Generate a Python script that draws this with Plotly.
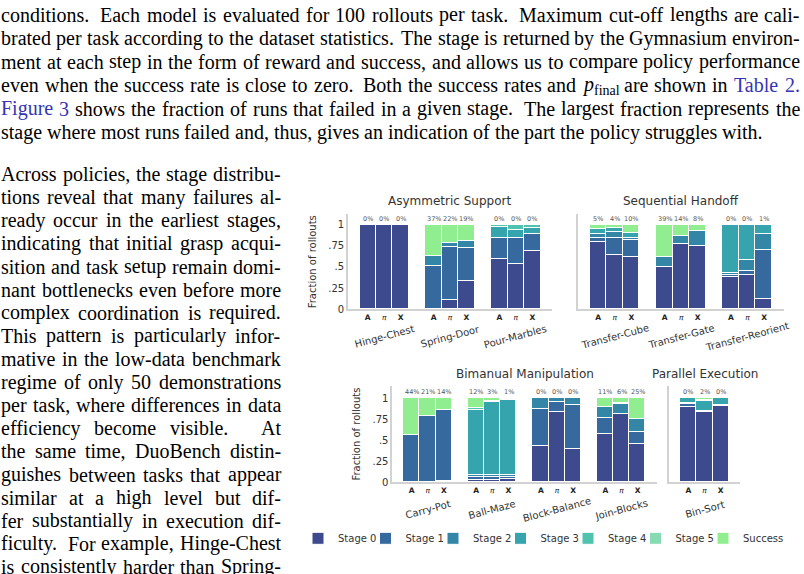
import plotly.graph_objects as go

# ---------------------------------------------------------------- data
panel_titles = ["Asymmetric Support", "Sequential Handoff", "Bimanual Manipulation", "Parallel Execution"]
panel_tasks = [
    ["Hinge-Chest", "Spring-Door", "Pour-Marbles"],
    ["Transfer-Cube", "Transfer-Gate", "Transfer-Reorient"],
    ["Carry-Pot", "Ball-Maze", "Block-Balance", "Join-Blocks"],
    ["Bin-Sort"],
]
policy_ticks = ["<b>A</b>", "<i>π</i>", "<b>X</b>"]
stage_names = ["Stage 0", "Stage 1", "Stage 2", "Stage 3", "Stage 4", "Stage 5", "Success"]
stage_colors = ["#3e4a8e", "#366a9e", "#3386a5", "#36a4ad", "#4fc3ad", "#86dbb2", "#90ee90"]

# fractions per bar: tasks in order above, policies A, pi, X within each task
stage0 = [1, 1, 1, 0, .10, .33, .59, .53, .68,
          .79, .64, .61, .49, .77, .74, .38, .40, .11,
          0, 0, .01, .03, .03, .04, .43, .84, .40, .58, .81, .46,
          .90, .84, .91]
stage1 = [0, 0, 0, .51, .63, .39, .25, .31, .21,
          .05, .20, .21, .01, 0, 0, .02, .05, .59,
          .56, .79, .85, .03, .03, .02, .44, .12, .52, .19, 0, .14,
          .03, 0, 0]
stage2 = [0, 0, 0, .12, .05, .09, 0, 0, 0,
          .05, .07, .02, .11, .09, .18, .02, .13, .19,
          0, 0, 0, .03, .03, .03, .13, .04, .08, .12, .12, .15,
          .01, .01, .01]
stage3 = [0, 0, 0, 0, 0, 0, .13, .10, .07,
          .06, .05, .06, 0, 0, 0, .58, .42, .10,
          0, 0, 0, .77, .86, .89, 0, 0, 0, 0, 0, 0,
          .06, .12, .08]
stage4 = [0, 0, 0, 0, 0, 0, .03, .06, .04,
          0, 0, 0, 0, 0, 0, 0, 0, 0,
          0, 0, 0, .02, .02, .01, 0, 0, 0, 0, .01, 0,
          0, 0, 0]
stage5 = [0, 0, 0, 0, 0, 0, 0, 0, 0,
          0, 0, 0, 0, 0, 0, 0, 0, 0,
          0, 0, 0, 0, 0, 0, 0, 0, 0, 0, 0, 0,
          0, .01, 0]
success = [0, 0, 0, .37, .22, .19, 0, 0, 0,
           .05, .04, .10, .39, .14, .08, 0, 0, .01,
           .44, .21, .14, .12, .03, .01, 0, 0, 0, .11, .06, .25,
           0, .02, 0]
stages = [stage0, stage1, stage2, stage3, stage4, stage5, success]

# page text
top_lines = [
    "conditions. Each model is evaluated for 100 rollouts per task. Maximum cut-off lengths are cali-",
    "brated per task according to the dataset statistics. The stage is returned by the Gymnasium environ-",
    "ment at each step in the form of reward and success, and allows us to compare policy performance",
    "even when the success rate is close to zero. Both the success rates and P_FINAL are shown in ^Table ^2.",
    "^Figure ^3 shows the fraction of runs that failed in a given stage. The largest fraction represents the",
    "stage where most runs failed and, thus, gives an indication of the part the policy struggles with.",
]
left_lines = [
    "Across policies, the stage distribu-",
    "tions reveal that many failures al-",
    "ready occur in the earliest stages,",
    "indicating that initial grasp acqui-",
    "sition and task setup remain domi-",
    "nant bottlenecks even before more",
    "complex coordination is required.",
    "This pattern is particularly infor-",
    "mative in the low-data benchmark",
    "regime of only 50 demonstrations",
    "per task, where differences in data",
    "efficiency become visible. At",
    "the same time, DuoBench distin-",
    "guishes between tasks that appear",
    "similar at a high level but dif-",
    "fer substantially in execution dif-",
    "ficulty. For example, Hinge-Chest",
    "is consistently harder than Spring-",
]

# ---------------------------------------------------------------- helpers
W, H = 804, 574
TXT = 20.0
AFM = {' ': 250, '!': 333, ',': 250, '-': 333, '.': 250, '%': 833, '0': 500, '1': 500, '2': 500,
       '3': 500, '4': 500, '5': 500, '6': 500, '7': 500, '8': 500, '9': 500, ':': 278, ';': 278,
       'A': 722, 'B': 667, 'C': 667, 'D': 722, 'E': 611, 'F': 556, 'G': 722, 'H': 722, 'I': 333,
       'J': 389, 'K': 722, 'L': 611, 'M': 889, 'N': 722, 'O': 722, 'P': 556, 'Q': 722, 'R': 667,
       'S': 556, 'T': 611, 'U': 722, 'V': 722, 'W': 944, 'X': 722, 'Y': 722, 'Z': 611,
       'a': 444, 'b': 500, 'c': 444, 'd': 500, 'e': 444, 'f': 333, 'g': 500, 'h': 500, 'i': 278,
       'j': 278, 'k': 500, 'l': 278, 'm': 778, 'n': 500, 'o': 500, 'p': 500, 'q': 500, 'r': 333,
       's': 389, 't': 278, 'u': 500, 'v': 500, 'w': 722, 'x': 500, 'y': 500, 'z': 444}


def tw(s, size):
    return sum(AFM.get(c, 500) for c in s) * size / 1000.0


def token(word, size):
    if word == "P_FINAL":
        return "<i>p</i><sub>final</sub>", 0.5 * size + tw("final", 0.7 * size), "#000000"
    if word.startswith("^"):
        w = word[1:]
        return w, tw(w, size), "#3434b4"
    return word, tw(word, size), "#000000"


annotations = []


def set_line(line, x0, x1, yc, justify, size=TXT):
    toks = [token(w, size) for w in line.split(" ")]
    words = line.split(" ")
    nat, stre = [], []
    for i in range(len(toks) - 1):
        w = words[i].lstrip("^")
        end = w.endswith(".") and words[i + 1].lstrip("^")[:1].isupper() and not words[i].startswith("^")
        nat.append(size * (0.25 + (0.11 if end else 0.0)))
        stre.append(size * (0.45 if end else 0.15))
    total = sum(t[1] for t in toks)
    if justify and len(toks) > 1:
        r = (x1 - x0 - total - sum(nat)) / sum(stre)
        gaps = [n + r * s for n, s in zip(nat, stre)]
    else:
        gaps = nat
    x = x0
    for i, (txt, wd, col) in enumerate(toks):
        annotations.append(dict(
            text=txt, x=x / W, y=1 - yc / H, xref="paper", yref="paper",
            xanchor="left", yanchor="middle", showarrow=False, borderpad=0,
            font=dict(family="Liberation Serif, Times New Roman, serif", size=size, color=col)))
        if i < len(gaps):
            x += wd + gaps[i]


for i, ln in enumerate(top_lines):
    set_line(ln, 0, 799, 15 + 23.7 * i, justify=(i < len(top_lines) - 1))
for i, ln in enumerate(left_lines):
    set_line(ln, 0, 280, 176 + 23.35 * i, justify=True)

# ---------------------------------------------------------------- chart
FONT = "DejaVu Sans"
GREY = "#333333"
fig = go.Figure()

x_domains = [[0.4328, 0.6866], [0.7193, 0.9751], [0.4879, 0.8172], [0.8321, 0.9204]]
y_domains = [[0.4559, 0.6225], [0.4559, 0.6225], [0.151, 0.3206], [0.151, 0.3206]]
y_tops = [1.125, 1.125, 1.145, 1.145]
title_off = [14, 14, 12.5, 12.5]
legend_names = ["legend" if s == 0 else f"legend{s + 1}" for s in range(len(stage_names))]

bar_idx = 0
panel_bars = []
for p, tasks in enumerate(panel_tasks):
    idx = list(range(bar_idx, bar_idx + 3 * len(tasks)))
    bar_idx += 3 * len(tasks)
    panel_bars.append(idx)

for s, (name, col, vals) in enumerate(zip(stage_names, stage_colors, stages)):
    for p, idx in enumerate(panel_bars):
        xs = [4 * (j // 3) + (j % 3) for j in range(len(idx))]
        ys = [vals[i] if vals[i] > 0 else None for i in idx]
        ax = "" if p == 0 else str(p + 1)
        fig.add_trace(go.Bar(
            x=xs, y=ys, width=1, name=name, legendgroup=name, showlegend=(p == 0),
            legend=legend_names[s],
            marker=dict(color=col, line=dict(color="white", width=1)),
            xaxis="x" + ax, yaxis="y" + ax, hoverinfo="skip"))

layout_axes = {}
for p, tasks in enumerate(panel_tasks):
    n = len(tasks)
    key = "" if p == 0 else str(p + 1)
    xs = [4 * g + k for g in range(n) for k in range(3)]
    layout_axes["xaxis" + key] = dict(
        domain=x_domains[p], range=[-1.2, 4 * n - 0.8], anchor="y" + key,
        tickvals=xs, ticktext=policy_ticks * n, ticks="", ticklabelstandoff=0,
        tickfont=dict(family=FONT, size=7.5, color="#222222"),
        showline=True, linecolor="#d2d2d2", linewidth=1.6, showgrid=False, zeroline=False,
        fixedrange=True)
    show_y = p in (0, 2)
    yax = dict(
        domain=y_domains[p], range=[0, y_tops[p]], anchor="x" + key,
        tickvals=[0, .25, .5, .75, 1], ticktext=["0", ".25", ".5", ".75", "1"],
        showticklabels=show_y, ticks="", ticklabelstandoff=0,
        tickfont=dict(family=FONT, size=10, color=GREY),
        showline=True, linecolor="#d2d2d2", linewidth=1.6, showgrid=False, zeroline=False,
        fixedrange=True)
    if show_y:
        yax["title"] = dict(text="Fraction of rollouts", font=dict(family=FONT, size=10, color=GREY),
                            standoff=10)
    layout_axes["yaxis" + key] = yax
    # panel title
    annotations.append(dict(
        text=panel_titles[p], x=sum(x_domains[p]) / 2, y=y_domains[p][1] + title_off[p] / H,
        xref="paper", yref="paper", xanchor="center", yanchor="middle", showarrow=False,
        font=dict(family=FONT, size=12, color=GREY)))
    # task names
    for g, t in enumerate(tasks):
        annotations.append(dict(
            text=t, x=4 * g + 1, xref="x" + key, y=y_domains[p][0] - 28 / H, yref="paper",
            xanchor="center", yanchor="middle", textangle=-15, showarrow=False,
            font=dict(family=FONT, size=10, color=GREY)))
    # success percentages
    for j, i in enumerate(panel_bars[p]):
        annotations.append(dict(
            text=f"{round(success[i] * 100)}%", x=4 * (j // 3) + (j % 3), xref="x" + key,
            y=1.075, yref="y" + key, xanchor="center", yanchor="middle", showarrow=False,
            font=dict(family=FONT, size=6.5, color="#555555")))

legends = {}
for s, ln in enumerate(legend_names):
    legends[ln] = dict(orientation="h", x=(298 + 67.5 * s) / W, y=1 - 544 / H,
                       xanchor="left", yanchor="middle",
                       font=dict(family=FONT, size=10, color=GREY),
                       itemclick=False, itemdoubleclick=False, bgcolor="rgba(0,0,0,0)")

fig.update_layout(
    width=W, height=H, margin=dict(l=0, r=0, t=0, b=0),
    paper_bgcolor="white", plot_bgcolor="white",
    barmode="stack", bargap=0, showlegend=True,
    annotations=annotations,
    **legends,
    **layout_axes)

fig.write_html("out.html")
